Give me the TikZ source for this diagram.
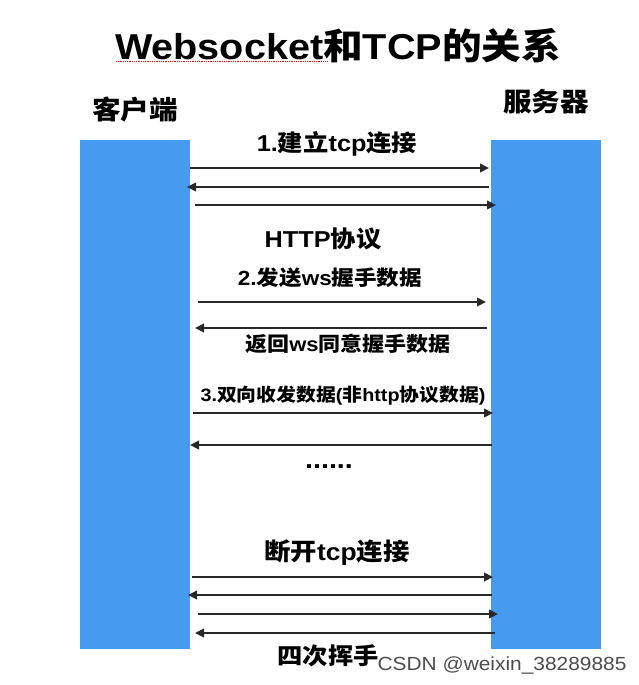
\documentclass[tikz,border=0pt]{standalone}
\usepackage{fontspec}
\setmainfont{Liberation Sans}[FakeStretch=1.1]
\newfontfamily\zhfont{Noto Sans CJK SC}[FakeStretch=1.1]
\newcommand{\zh}[1]{{\zhfont #1}}
\usetikzlibrary{arrows.meta}
\definecolor{barblue}{RGB}{70,155,240}
\definecolor{msgline}{RGB}{40,40,40}

\begin{document}
\begin{tikzpicture}[x=1pt,y=-1pt,
  bar/.style={fill=barblue, inner sep=0pt, minimum width=110pt, minimum height=509pt},
  msg/.style={draw=msgline, line width=2.2pt, -{Triangle[length=9pt,width=8.5pt]}},
  lbl/.style={inner sep=0pt, font=\bfseries\fontsize{23}{23}\selectfont}]
  \useasboundingbox (0,0) rectangle (639,685);

  % title and the two sides
  \node (title) [inner sep=0pt, font=\bfseries\fontsize{36}{36}\selectfont] at (338,46)
    {Websocket\zh{和}TCP\zh{的关系}};
  \draw [red, densely dotted, line width=0.8pt] (116,61) -- (327,61);
  \node (clientname) [lbl, font=\bfseries\fontsize{26}{26}\selectfont] at (135,110) {\zh{客户端}};
  \node (servername) [lbl, font=\bfseries\fontsize{26}{26}\selectfont] at (546,102) {\zh{服务器}};

  \node (client) [bar] at (135,394.5) {};
  \node (server) [bar] at (545.5,394.5) {};

  % 1. tcp
  \node (step1) [lbl] at (337,144) {1.\zh{建立}tcp\zh{连接}};
  \coordinate (c1) at (190,168);  \coordinate (s1) at (489,168);
  \coordinate (c2) at (187,187);  \coordinate (s2) at (489,187);
  \coordinate (c3) at (195,205);  \coordinate (s3) at (496,205);
  \draw [msg] (c1) -- (s1);
  \draw [msg] (s2) -- (c2);
  \draw [msg] (c3) -- (s3);

  % 2. http
  \node (http) [lbl] at (323,239) {HTTP\zh{协议}};
  \node (step2) [lbl, font=\bfseries\fontsize{20.5}{20.5}\selectfont] at (330,278) {2.\zh{发送}ws\zh{握手数据}};
  \coordinate (c4) at (198,302);  \coordinate (s4) at (486,302);
  \coordinate (c5) at (195,328);  \coordinate (s5) at (487,328);
  \draw [msg] (c4) -- (s4);
  \draw [msg] (s5) -- (c5);
  \node (reply) [lbl, font=\bfseries\fontsize{20}{20}\selectfont] at (348,344) {\zh{返回}ws\zh{同意握手数据}};

  % 3. data
  \node (step3) [lbl, font=\bfseries\fontsize{18}{18}\selectfont] at (343,396)
    {3.\zh{双向收发数据}(\zh{非}http\zh{协议数据})};
  \coordinate (c6) at (193,413);  \coordinate (s6) at (493,413);
  \coordinate (c7) at (190,445);  \coordinate (s7) at (492,445);
  \draw [msg] (c6) -- (s6);
  \draw [msg] (s7) -- (c7);
  \node (dots) [lbl, font=\bfseries\fontsize{26}{26}\selectfont] at (329,467) {......};

  % 4. close
  \node (close) [lbl, font=\bfseries\fontsize{24}{24}\selectfont] at (337,553) {\zh{断开}tcp\zh{连接}};
  \coordinate (c8) at (192,577);  \coordinate (s8) at (493,577);
  \coordinate (c9) at (188,595);  \coordinate (s9) at (492,595);
  \coordinate (c10) at (198,614); \coordinate (s10) at (498,614);
  \coordinate (c11) at (195,633); \coordinate (s11) at (495,633);
  \draw [msg] (c8) -- (s8);
  \draw [msg] (s9) -- (c9);
  \draw [msg] (c10) -- (s10);
  \draw [msg] (s11) -- (c11);
  \node (bye) [lbl] at (328,656) {\zh{四次挥手}};

  \node (mark) [inner sep=0pt, text=black!70, font=\fontsize{19}{19}\selectfont] at (502,665)
    {CSDN @weixin\_38289885};
\end{tikzpicture}
\end{document}
